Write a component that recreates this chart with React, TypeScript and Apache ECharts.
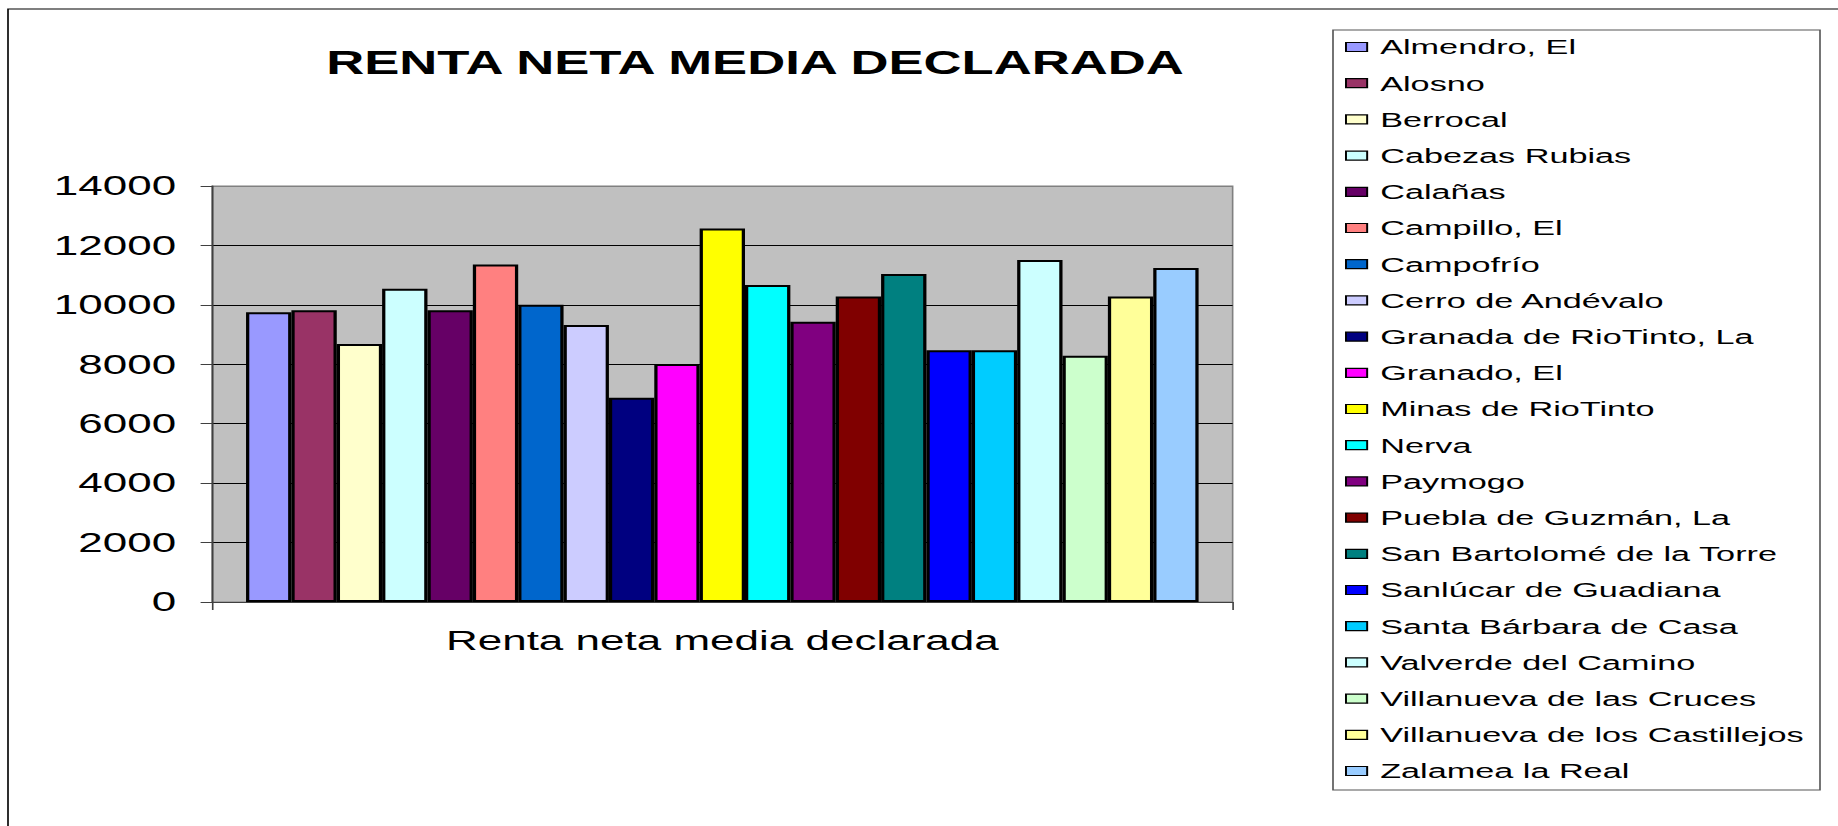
import React, { useEffect, useRef } from 'react';
import * as echarts from 'echarts';

// ---- data ----
const municipalities = [
  'Almendro, El',
  'Alosno',
  'Berrocal',
  'Cabezas Rubias',
  'Calañas',
  'Campillo, El',
  'Campofrío',
  'Cerro de Andévalo',
  'Granada de RioTinto, La',
  'Granado, El',
  'Minas de RioTinto',
  'Nerva',
  'Paymogo',
  'Puebla de Guzmán, La',
  'San Bartolomé de la Torre',
  'Sanlúcar de Guadiana',
  'Santa Bárbara de Casa',
  'Valverde del Camino',
  'Villanueva de las Cruces',
  'Villanueva de los Castillejos',
  'Zalamea la Real',
];

const rentaValues = [
  9750, 9820, 8680, 10540, 9820, 11360, 10000, 9320, 6870, 8010, 12570,
  10670, 9430, 10280, 11040, 8470, 8470, 11510, 8290, 10280, 11240,
];

const barColors = [
  '#9999FF', '#993366', '#FFFFCC', '#CCFFFF', '#660066', '#FF8080', '#0066CC',
  '#CCCCFF', '#000080', '#FF00FF', '#FFFF00', '#00FFFF', '#800080', '#800000',
  '#008080', '#0000FF', '#00CCFF', '#CCFFFF', '#CCFFCC', '#FFFF99', '#99CCFF',
];

const categories = ['Renta neta media declarada'];
const chartTitle = 'RENTA NETA MEDIA DECLARADA';
const yMin = 0;
const yMax = 14000;
const yInterval = 2000;

// ---- layout (the original picture is stretched horizontally) ----
const S = 1.63;
const W = 1838 / S;
const H = 826;
const fx = (x: number) => x / S;
const FONT = '"Liberation Sans", Arial, Helvetica, sans-serif';

export default function App() {
  const ref = useRef<HTMLDivElement>(null);

  useEffect(() => {
    document.body.style.margin = '0';
    document.body.style.overflow = 'hidden';
    const chart = echarts.init(ref.current!, null, { renderer: 'svg' });

    const option: any = {
      animation: false,
      backgroundColor: '#FFFFFF',
      textStyle: { fontFamily: FONT },
      graphic: [
        {
          type: 'rect',
          shape: { x: fx(8), y: 9, width: 3000, height: 3000 },
          style: { fill: 'none', stroke: '#000000', lineWidth: 1 },
          silent: true,
        },
        {
          type: 'rect',
          shape: { x: fx(1333), y: 30, width: fx(1820) - fx(1333), height: 760 },
          style: { fill: 'none', stroke: '#555555', lineWidth: 1 },
          silent: true,
        },
        {
          type: 'text',
          x: fx(755),
          y: 63,
          style: {
            text: chartTitle,
            fontFamily: FONT,
            fontWeight: 'bold',
            fontSize: 32.3,
            fill: '#000000',
            align: 'center',
            verticalAlign: 'middle',
          },
          silent: true,
        },
      ],
      grid: {
        left: fx(212),
        right: W - fx(1232),
        top: 186,
        bottom: H - 602,
        show: true,
        backgroundColor: '#C0C0C0',
        borderColor: '#808080',
        borderWidth: 1,
        containLabel: false,
      },
      legend: {
        orient: 'vertical',
        left: fx(1345),
        top: 36,
        padding: 0,
        itemWidth: 13,
        itemHeight: 9,
        itemGap: 14.2,
        icon: 'rect',
        selectedMode: false,
        data: municipalities,
        itemStyle: { borderColor: '#000000', borderWidth: 1.2 },
        textStyle: {
          fontSize: 21,
          lineHeight: 22,
          color: '#000000',
          fontFamily: FONT,
          padding: [0, 0, 0, 3],
        },
      },
      xAxis: {
        type: 'category',
        data: categories,
        boundaryGap: true,
        axisLine: { show: true, lineStyle: { color: '#404040', width: 1 } },
        axisTick: { show: true, length: 8, lineStyle: { color: '#404040' } },
        axisLabel: { fontSize: 27, color: '#000000', margin: 25, fontFamily: FONT },
        splitLine: { show: false },
      },
      yAxis: {
        type: 'value',
        min: yMin,
        max: yMax,
        interval: yInterval,
        axisLine: { show: true, lineStyle: { color: '#404040', width: 1 } },
        axisTick: { show: true, length: 7, lineStyle: { color: '#404040' } },
        axisLabel: {
          fontSize: 27,
          color: '#000000',
          margin: 22,
          fontFamily: FONT,
          formatter: (v: number) => String(v),
        },
        splitLine: {
          show: true,
          lineStyle: {
            color: ['#000000', '#000000', '#000000', '#000000', '#000000', '#000000', '#000000', '#808080'],
            width: 1,
          },
        },
      },
      series: municipalities.map((name, i) => ({
        type: 'bar',
        name,
        data: [rentaValues[i]],
        barGap: '0%',
        barCategoryGap: '6.67%',
        itemStyle: { color: barColors[i], borderColor: '#000000', borderWidth: 2 },
      })),
    };

    chart.setOption(option);
    return () => chart.dispose();
  }, []);

  return (
    <div
      ref={ref}
      style={{
        position: 'absolute',
        left: 0,
        top: 0,
        width: W,
        height: H,
        transform: `scaleX(${S})`,
        transformOrigin: '0 0',
      }}
    />
  );
}
